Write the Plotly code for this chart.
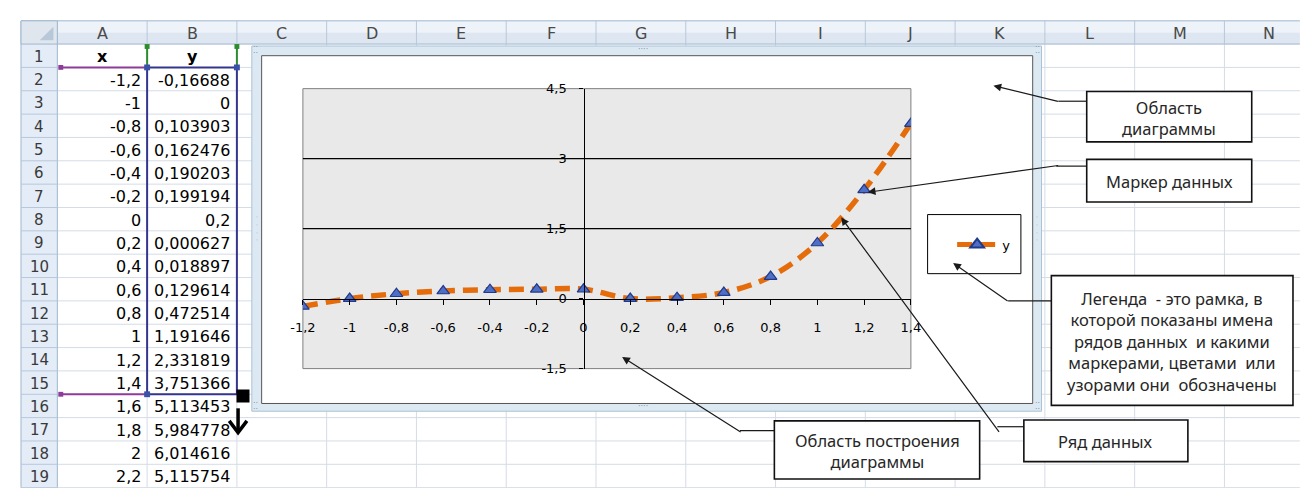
import plotly.graph_objects as go

# The page keeps the browser's 8px body margin, so the figure sits at (8, 8):
# it is 16px smaller than the 1310x496 window and every reference pixel is shifted by OFF.
OFF = 8.0
W, H = 1310, 496
FW, FH = W - 2 * int(OFF), H - 2 * int(OFF)

# ---------------- data (read from the sheet / chart) ----------------
x_values = [-1.2, -1.0, -0.8, -0.6, -0.4, -0.2, 0.0, 0.2, 0.4, 0.6, 0.8, 1.0, 1.2, 1.4, 1.6, 1.8, 2.0, 2.2]
y_values = [-0.16688, 0.0, 0.103903, 0.162476, 0.190203, 0.199194, 0.2, 0.000627, 0.018897,
            0.129614, 0.472514, 1.191646, 2.331819, 3.751366, 5.113453, 5.984778, 6.014616, 5.115754]
plotted_rows = 14  # chart uses rows 2..15

x_ticks = [-1.2, -1.0, -0.8, -0.6, -0.4, -0.2, 0.0, 0.2, 0.4, 0.6, 0.8, 1.0, 1.2, 1.4]
x_tick_labels = ["-1,2", "-1", "-0,8", "-0,6", "-0,4", "-0,2", "0", "0,2", "0,4", "0,6", "0,8", "1", "1,2", "1,4"]
y_ticks = [-1.5, 0.0, 1.5, 3.0, 4.5]
y_tick_labels = ["-1,5", "0", "1,5", "3", "4,5"]

column_letters = ["A", "B", "C", "D", "E", "F", "G", "H", "I", "J", "K", "L", "M", "N"]
header_cells = ["x", "y"]
series_name = "y"
n_rows = 19

callout_texts = [
    "Область<br>диаграммы",
    "Маркер данных",
    "Легенда  - это рамка, в<br>которой показаны имена<br>рядов данных  и какими<br>маркерами, цветами  или<br>узорами они  обозначены",
    "Ряд данных",
    "Область построения<br>диаграммы",
]

# ---------------- geometry (reference pixels) ----------------
def X(p):
    return (p - OFF) / FW


def Y(p):
    return 1 - (p - OFF) / FH


COL0, COLW = 45.0, 91.4
ROW0, ROWH = 38.0, 24.1
LEFT, TOP = 8.0, 14.0


def col_left(i):
    return COL0 + COLW * i


def row_top(r):
    return ROW0 + ROWH * (r - 1)


PL, PR, PT, PB = 295.0, 914.0, 84.0, 373.0
XMIN, XMAX = x_ticks[0], x_ticks[-1]
YMIN, YMAX = y_ticks[0], y_ticks[-1]

shapes = []
annotations = []
NONE = "rgba(0,0,0,0)"


def rect(x0, y0, x1, y1, fill=None, line=None, lw=1.0, layer="below"):
    shapes.append(dict(type="rect", xref="paper", yref="paper", x0=X(x0), x1=X(x1), y0=Y(y1), y1=Y(y0),
                       fillcolor=fill or NONE, line=dict(color=line or NONE, width=lw if line else 0),
                       layer=layer))


def seg(x0, y0, x1, y1, color, w=1.0, layer="below"):
    shapes.append(dict(type="line", xref="paper", yref="paper", x0=X(x0), y0=Y(y0), x1=X(x1), y1=Y(y1),
                       line=dict(color=color, width=w), layer=layer))


def poly(pts, color, w=1.0, layer="above"):
    d = "M " + " L ".join(f"{X(a):.5f},{Y(b):.5f}" for a, b in pts)
    shapes.append(dict(type="path", xref="paper", yref="paper", path=d, line=dict(color=color, width=w),
                       fillcolor=NONE, layer=layer))


def text(x, y, s, size=15, color="#000", family="DejaVu Sans", xanchor="center", bold=False):
    if bold:
        s = f"<b>{s}</b>"
    annotations.append(dict(x=X(x), y=Y(y), xref="paper", yref="paper", text=s, showarrow=False,
                            xanchor=xanchor, yanchor="middle", font=dict(size=size, color=color, family=family)))


def fmt(v):
    if v == 0:
        return "0"
    s = ("%.6f" % v).rstrip("0").rstrip(".")
    return s.replace(".", ",")


# ---------------- spreadsheet ----------------
GRID = "#d5dce6"
HDR_LINE = "#9eb6ce"
for k in range(1, 15):
    seg(col_left(k), ROW0, col_left(k), H, GRID)
for r in range(2, n_rows + 2):
    seg(COL0, row_top(r), W, row_top(r), GRID)

# column header (two-tone gradient imitation)
rect(LEFT, TOP, W, TOP + 12, fill="#eef3f9")
rect(LEFT, TOP + 12, W, ROW0, fill="#dde6f1")
seg(LEFT, TOP, W, TOP, HDR_LINE)
seg(LEFT, ROW0, W, ROW0, HDR_LINE)
for k in range(0, 15):
    seg(col_left(k), TOP, col_left(k), ROW0, "#b7c8db")
# row header
rect(LEFT, ROW0, COL0, H, fill="#e4ecf7")
seg(LEFT, TOP, LEFT, H, HDR_LINE)
seg(COL0, ROW0, COL0, H, HDR_LINE)
for r in range(2, n_rows + 2):
    seg(LEFT, row_top(r), COL0, row_top(r), "#b7c8db")
# corner cell
rect(LEFT, TOP, COL0, ROW0, fill="#dfe6ee", line=HDR_LINE)
shapes.append(dict(type="path", xref="paper", yref="paper",
                   path=f"M {X(41)},{Y(20)} L {X(41)},{Y(34)} L {X(27)},{Y(34)} Z",
                   fillcolor="#b9c8d9", line=dict(width=0), layer="below"))

for k, letter in enumerate(column_letters):
    text(col_left(k) + COLW / 2, (TOP + ROW0) / 2 + 1, letter, size=16, color="#4a4a4a")
for r in range(1, n_rows + 1):
    text((LEFT + COL0) / 2, row_top(r) + ROWH / 2 + 1, str(r), size=15, color="#3a3a3a")

# table content
text(col_left(0) + COLW / 2, row_top(1) + ROWH / 2 + 1, header_cells[0], size=16, bold=True)
text(col_left(1) + COLW / 2, row_top(1) + ROWH / 2 + 1, header_cells[1], size=16, bold=True)
for i, (xv, yv) in enumerate(zip(x_values, y_values)):
    r = i + 2
    yc = row_top(r) + ROWH / 2 + 1
    text(col_left(1) - 4, yc, fmt(xv), size=16, xanchor="right")
    text(col_left(2) - 5, yc, fmt(yv), size=16, xanchor="right")

# chart-source range highlighting
R2, R16 = row_top(2), row_top(plotted_rows + 2)
seg(col_left(1), row_top(1) + 2, col_left(1), R2, "#2e8b2e", 2)
seg(col_left(2), row_top(1) + 2, col_left(2), R2, "#2e8b2e", 2)
rect(col_left(1) - 2.5, row_top(1), col_left(1) + 2.5, row_top(1) + 5, fill="#2e8b2e")
rect(col_left(2) - 2.5, row_top(1), col_left(2) + 2.5, row_top(1) + 5, fill="#2e8b2e")
seg(COL0 + 2, R2, col_left(1), R2, "#8e3b9a", 2)
seg(COL0 + 2, R16, col_left(1), R16, "#8e3b9a", 2)
rect(COL0 + 1, R2 - 2.5, COL0 + 6, R2 + 2.5, fill="#8e3b9a")
rect(COL0 + 1, R16 - 2.5, COL0 + 6, R16 + 2.5, fill="#8e3b9a")
rect(col_left(1), R2, col_left(2), R16, line="#35358f", lw=2)
for (a, b) in [(col_left(1), R2), (col_left(2), R2), (col_left(1), R16)]:
    rect(a - 3, b - 3, a + 3, b + 3, fill="#3b50a8")

# ---------------- chart frame ----------------
rect(243, 40, 1047, 417, fill="#dce9f2", line="#a9c2d6", lw=1)
rect(253, 50, 1038, 409, fill="white", line="#555555", lw=1)
# plot area
rect(PL, PT, PR, PB, fill="#e9e9e9", line="#808080", lw=1)
for v in y_ticks[1:-1]:
    if v != 0:
        shapes.append(dict(type="line", xref="paper", yref="y", x0=X(PL), x1=X(PR), y0=v, y1=v,
                           line=dict(color="#000000", width=1.3), layer="below"))

# handles of the selected chart
for (hx, hy, s) in [(247, 45, "⁚⁚"), (1043, 45, "⁚⁚"), (247, 412, "⁚⁚"), (1043, 412, "⁚⁚"),
                    (641, 44, "····"), (641, 412, "····")]:
    text(hx, hy, s, size=8, color="#7f97ad")
for hx in (248, 1042):
    text(hx, 228, "·<br>·<br>·<br>·", size=6, color="#7f97ad")

# ---------------- legend frame ----------------
rect(931, 214, 1026, 275, line="#000000", lw=1, layer="above")

# ---------------- callouts ----------------
callout_boxes = [
    (1093, 87, 1261, 139),
    (1093, 157, 1261, 201),
    (1057, 277, 1303, 411),
    (1029, 426, 1196, 469),
    (775, 427, 984, 487),
]
callout_paths = [
    [(998, 81), (1064, 97), (1093, 97)],
    [(870, 191), (1062, 164), (1093, 164)],
    [(957, 264), (1013, 303), (1057, 303)],
    [(843, 217), (1002, 433), (1029, 433)],
    [(620, 361), (740, 437), (775, 437)],
]
for pts in callout_paths:
    poly(pts[1:], "#1a1a1a", 1.2)
    hx, hy = pts[0]
    tx, ty = pts[1]
    annotations.append(dict(x=X(hx), y=Y(hy), xref="paper", yref="paper", text="", showarrow=True,
                            ax=tx - hx, ay=ty - hy, axref="pixel", ayref="pixel", arrowhead=2,
                            arrowsize=1.3, arrowwidth=1.2, arrowcolor="#1a1a1a", standoff=0))
for (x0, y0, x1, y1), s in zip(callout_boxes, callout_texts):
    rect(x0, y0, x1, y1, fill="white", line="#111111", lw=1.6, layer="above")
    text((x0 + x1) / 2, (y0 + y1) / 2 + 1, s, size=16.5, color="#262626", family="Noto Sans")

# fill handle + cursor arrow
poly([(229, 414), (229, 437)], "#000000", 3.5)
poly([(220, 427), (229, 439), (238, 427)], "#000000", 3.5)
annotations.append(dict(x=X(227), y=Y(409), xref="paper", yref="paper", text=" ", showarrow=False,
                        width=12, height=12, bgcolor="#000000", borderpad=0, font=dict(size=6)))

# ---------------- figure ----------------
ydom = [Y(PB), Y(PT)]
xdom = [X(PL), X(PR)]
x_axis_pos = ydom[0] + (0 - YMIN) / (YMAX - YMIN) * (ydom[1] - ydom[0])
y_axis_pos = xdom[0] + (0 - XMIN) / (XMAX - XMIN) * (xdom[1] - xdom[0])

fig = go.Figure()
fig.add_trace(go.Scatter(
    x=x_values[:plotted_rows], y=y_values[:plotted_rows], name=series_name, mode="lines+markers",
    line=dict(color="#E46C0A", width=5.5, dash="15px,8px", shape="spline", smoothing=1.0),
    marker=dict(symbol="triangle-up", size=11, color="#4F6FC6", line=dict(color="#1F3A8A", width=1.2)),
))

fig.update_layout(
    width=FW, height=FH, margin=dict(l=0, r=0, t=0, b=0),
    paper_bgcolor="white", plot_bgcolor="rgba(0,0,0,0)",
    showlegend=True,
    legend=dict(x=X(956), y=Y(245), xanchor="left", yanchor="middle", bgcolor=NONE, borderwidth=0,
                font=dict(family="DejaVu Sans", size=13, color="#000"), itemwidth=40,
                itemsizing="constant"),
    xaxis=dict(domain=xdom, range=[XMIN, XMAX], anchor="free", position=x_axis_pos,
               showline=True, linecolor="#000", linewidth=1.3, showgrid=False, zeroline=False,
               ticks="outside", ticklen=5, tickcolor="#000", tickwidth=1,
               tickvals=x_ticks, ticktext=x_tick_labels, ticklabelstandoff=12,
               tickfont=dict(family="DejaVu Sans", size=13, color="#000")),
    yaxis=dict(domain=ydom, range=[YMIN, YMAX], anchor="free", position=y_axis_pos,
               showline=True, linecolor="#000", linewidth=1.3, showgrid=False, zeroline=False,
               ticks="outside", ticklen=4, tickcolor="#000", tickwidth=1,
               tickvals=y_ticks, ticktext=y_tick_labels, ticklabelstandoff=10,
               tickfont=dict(family="DejaVu Sans", size=13, color="#000")),
    shapes=shapes, annotations=annotations,
)

fig.write_html("out.html", config={"displayModeBar": False})
